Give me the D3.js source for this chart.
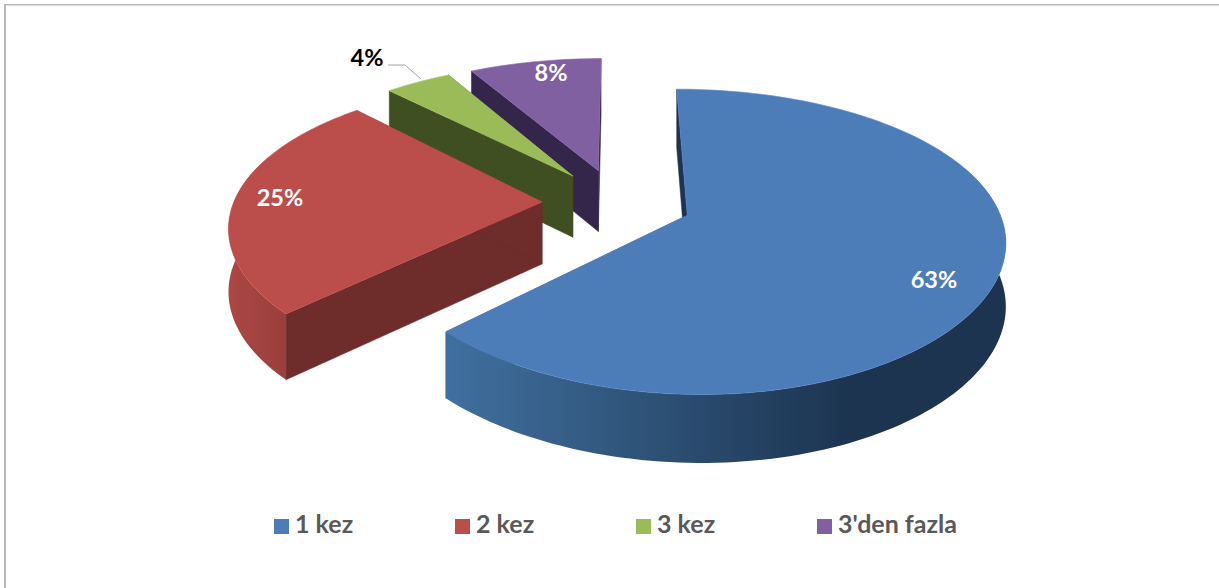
<!DOCTYPE html>
<html><head><meta charset="utf-8">
<script src="https://cdn.jsdelivr.net/npm/d3@7"></script>
<style>html,body{margin:0;padding:0;background:#fff}svg{display:block}text{font-family:Lato,"Open Sans",sans-serif;font-weight:700}</style>
</head><body><svg id="c" width="1219" height="588"></svg>
<script>
const categories = ["1 kez","2 kez","3 kez","3'den fazla"];
const values = [62.5,25,4.17,8.33];
const labels = ["63%","25%","4%","8%"];
const topColors = ["#4c7db9","#bb4d4b","#9bbb59","#8060a0"];
const wallColors = ["#1e3350","#6e2c2a","#404f22","#33264a"];
const rimLight = ["#40709f","#ac4744","#8aa74e","#7a5c98"];
const rimDark = ["#1c3450","#8e3a38","#5d7133","#4e3a6c"];
const labelPos = [[934,280,"#fff"],[280,198,"#fff"],[367,58,"#000"],[551,73,"#fff"]];
const legendX = [274,455,636,817];

const W=1219,H=588;
const svg=d3.select("#c");
svg.append("rect").attr("x",4).attr("y",4).attr("width",2).attr("height",H-4).attr("fill","#b8b8b8");
svg.append("rect").attr("x",4).attr("y",4).attr("width",W-4).attr("height",1.5).attr("fill","#b8b8b8");

// perspective projection of the pie plane
const vx=617, vy=-496, A=1850, Dx=6, B=3481, D=4.987, DZ=118, EXPLODE=0.243, RIM_SHIFT=-0.025, RY_BACK=1.03, RY_FRONT=1.01;
const proj=(X,Y,z=0)=>{const w=D-Y;return [vx+A*X/(Dx-Y), vy+B/w+z*DZ/Math.pow(w,0.4)];};

const arcs=d3.pie().sort(null).startAngle(0).endAngle(2*Math.PI)(values);
const defs=svg.append("defs");
const line=d3.line();

const slices=arcs.map((a,i)=>{
  const mid=(a.startAngle+a.endAngle)/2;
  const ox=Math.sin(mid)*EXPLODE, oy=-Math.cos(mid)*EXPLODE;
  return {a,i,ox,oy};
});
// painter's order: back to front
slices.sort((p,q)=>p.oy-q.oy);

slices.forEach(({a,i,ox,oy})=>{
  const g=svg.append("g");
  const n=Math.max(6,Math.round((a.endAngle-a.startAngle)*40));
  const angs=d3.range(n+1).map(k=>a.startAngle+(a.endAngle-a.startAngle)*k/n);
  const pt=(t,z)=>{const c=Math.cos(t);return proj(ox+Math.sin(t),oy-(c>0?RY_BACK:RY_FRONT)*c+RIM_SHIFT,z);};
  const c0=proj(ox,oy,0),c1=proj(ox,oy,1);
  // straight cut walls
  [a.startAngle,a.endAngle].forEach(t=>{
    const q=[c0,pt(t,0),pt(t,1),c1];
    g.append("path").attr("d",line(q)+"Z").attr("fill",wallColors[i]).attr("stroke",wallColors[i]).attr("stroke-width",.5);
  });
  // rim, only the faces looking at the viewer
  const xs=angs.map(t=>pt(t,0)[0]);
  const id="rim"+i;
  const gr=defs.append("linearGradient").attr("id",id).attr("gradientUnits","userSpaceOnUse")
    .attr("x1",d3.min(xs)).attr("x2",d3.max(xs)).attr("y1",0).attr("y2",0);
  gr.append("stop").attr("offset","0%").attr("stop-color",rimLight[i]);
  gr.append("stop").attr("offset","72%").attr("stop-color",rimDark[i]);
  gr.append("stop").attr("offset","100%").attr("stop-color",rimDark[i]);
  const run=angs.filter(t=>Math.cos(t)<0.32);
  if(run.length>1){
    const q=run.map(t=>pt(t,0)).concat(run.slice().reverse().map(t=>pt(t,1)));
    g.append("path").attr("d",line(q)+"Z").attr("fill",`url(#${id})`);
  }
  // top face
  const top=[c0].concat(angs.map(t=>pt(t,0)));
  g.append("path").attr("d",line(top)+"Z").attr("fill",topColors[i]).attr("stroke",d3.color(topColors[i]).brighter(.3)).attr("stroke-width",.6);
});

// leader line of the small slice
svg.append("path").attr("d",d3.line()([[388,65],[405,65],[421,79]])).attr("fill","none").attr("stroke","#a6a6a6").attr("stroke-width",1);

labels.forEach((t,i)=>{
  svg.append("text").attr("x",labelPos[i][0]).attr("y",labelPos[i][1]).attr("dy","0.35em")
    .attr("text-anchor","middle").attr("font-size",23.5).attr("fill",labelPos[i][2]).text(t);
});
categories.forEach((t,i)=>{
  svg.append("rect").attr("x",legendX[i]).attr("y",519).attr("width",15).attr("height",15).attr("fill",topColors[i]);
  svg.append("text").attr("x",legendX[i]+21).attr("y",533).attr("font-size",25).attr("fill","#595959").text(t);
});
</script></body></html>
